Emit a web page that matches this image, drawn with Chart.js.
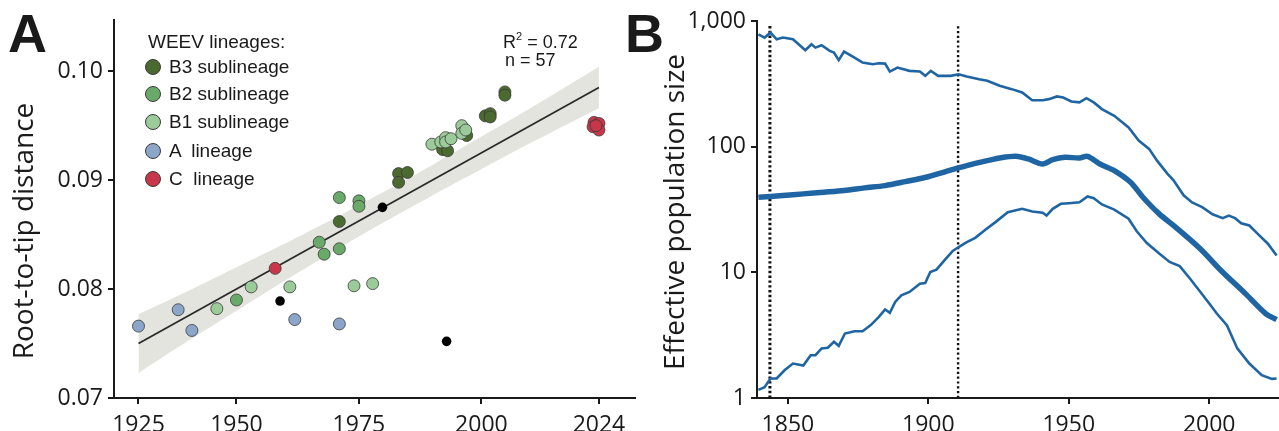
<!DOCTYPE html>
<html>
<head>
<meta charset="utf-8">
<script src="https://cdn.jsdelivr.net/npm/chart.js@4.4.1/dist/chart.umd.min.js"></script>
<style>
html,body{margin:0;padding:0;background:#fff;}
#root{position:relative;width:1279px;height:431px;overflow:hidden;background:#fff;font-family:"Liberation Sans",Arial,sans-serif;color:#1a1a1a;}
canvas{position:absolute;top:0;}
.t{position:absolute;white-space:pre;z-index:5;}
.panel{font-weight:bold;font-size:54px;line-height:54px;height:54px;}
.leg{font-size:19px;line-height:24px;height:24px;}
.dot{position:absolute;width:16px;height:16px;border-radius:50%;box-sizing:border-box;border:1px solid #3a3a3a;z-index:5;}
.stat{font-size:18px;line-height:22px;height:22px;}
.ytitle{font-family:"Open Sans",sans-serif;font-size:28px;line-height:34px;height:34px;text-align:center;transform:rotate(-90deg);transform-origin:50% 50%;}
</style>
</head>
<body>
<div id="root">
<canvas id="chartA" width="642" height="431" style="left:0"></canvas>
<canvas id="chartB" width="639" height="431" style="left:640px"></canvas>

<div class="t panel" style="left:8px;top:6px">A</div>
<div class="t panel" style="left:625px;top:6px">B</div>

<div class="t leg" style="left:148px;top:30px">WEEV lineages:</div>
<div class="dot" style="left:145px;top:59px;background:#4b6a30"></div>
<div class="t leg" style="left:169px;top:55px">B3 sublineage</div>
<div class="dot" style="left:145px;top:86px;background:#6aaa68"></div>
<div class="t leg" style="left:169px;top:82px">B2 sublineage</div>
<div class="dot" style="left:145px;top:114px;background:#9ccb9a"></div>
<div class="t leg" style="left:169px;top:110px">B1 sublineage</div>
<div class="dot" style="left:145px;top:143px;background:#8ba6c8"></div>
<div class="t leg" style="left:169px;top:139px">A  lineage</div>
<div class="dot" style="left:145px;top:171px;background:#c8364a"></div>
<div class="t leg" style="left:169px;top:167px">C  lineage</div>

<div class="t stat" style="left:503px;top:31px">R<sup style="font-size:11px;line-height:0;position:relative;top:-1px">2</sup> = 0.72</div>
<div class="t stat" style="left:505px;top:49px">n = 57</div>

<div class="t ytitle" style="left:-178px;top:214px;width:400px">Root-to-tip distance</div>
<div class="t ytitle" style="left:473px;top:195px;width:400px">Effective population size</div>
</div>

<script>
// ---------- Panel A data ----------
const yearsB3 = [1971, 1983.1, 1983.1, 1984.9, 1992.1, 1992.1, 1993.1, 1997, 2000.8, 2001.8, 2001.8, 2004.8, 2004.8];
const distB3  = [0.0862, 0.0906, 0.0898, 0.0907, 0.0930, 0.0928, 0.0927, 0.0941, 0.0959, 0.0961, 0.0958, 0.0981, 0.0978];
const yearsB2 = [1950, 1966.9, 1967.9, 1971, 1971, 1975, 1975];
const distB2  = [0.0790, 0.0843, 0.0832, 0.0837, 0.0884, 0.0881, 0.0876];
const yearsB1 = [1946, 1953, 1960.9, 1974, 1977.8, 1989.9, 1991.7, 1992.7, 1992.7, 1993.8, 1996, 1996, 1996.8];
const distB1  = [0.0782, 0.0802, 0.0802, 0.0803, 0.0805, 0.0933, 0.0935, 0.0939, 0.0935, 0.0938, 0.0950, 0.0943, 0.0946];
const yearsA  = [1930, 1938.1, 1940.9, 1961.9, 1971];
const distA   = [0.0766, 0.0781, 0.0762, 0.0772, 0.0768];
const yearsC  = [1957.9, 2023, 2024, 2022.8, 2024, 2023.4];
const distC   = [0.0819, 0.0953, 0.0952, 0.0949, 0.0946, 0.0950];
const yearsUnassigned = [1958.9, 1979.8, 1992.9];
const distUnassigned  = [0.0789, 0.0875, 0.0752];

const fitYears = [1930, 2024];
const fitDist  = [0.0750, 0.0985];
const bandYears = [1930, 1940, 1950, 1960, 1970, 1980, 1990, 2000, 2010, 2024];
const bandUpper = [0.0777, 0.0798, 0.0820, 0.0842, 0.0865, 0.0889, 0.0914, 0.0940, 0.0966, 0.1004];
const bandLower = [0.0723, 0.0752, 0.0780, 0.0808, 0.0835, 0.0861, 0.0886, 0.0910, 0.0934, 0.0966];

const xTicksA = [1930, 1950, 1975, 2000, 2024];
const xTickLabelsA = ['1925', '1950', '1975', '2000', '2024'];
const yTicksA = [0.07, 0.08, 0.09, 0.10];
const yTickLabelsA = ['0.07', '0.08', '0.09', '0.10'];

// ---------- Panel B data ----------
const yearsUpper = [1839.5,1841.7,1843.8,1846,1848.2,1851.8,1856.2,1858.4,1859.8,1862,1864.9,1866.4,1868.1,1870,1873.7,1876.6,1880.2,1882.4,1884.6,1886.3,1889,1893.3,1897,1898.9,1900.9,1903.5,1907.9,1910.8,1913.7,1918.1,1921,1925.4,1929.7,1933.4,1937,1940.7,1942.9,1945.8,1948,1950.9,1953.8,1956.3,1958.9,1961.8,1966.2,1971.3,1974.9,1978.6,1981.5,1985.1,1987.3,1990.9,1993.9,1997.5,2001.2,2004.8,2007,2009.2,2011.4,2014.3,2017.2,2020.9,2024];
const neUpper    = [783,738,808,715,738,715,585,653,614,641,578,561,488,571,512,467,453,461,458,396,426,401,396,366,401,366,366,377,362,344,334,305,287,270,234,234,239,251,246,229,225,243,225,199,176,142,112,96,77,61,54,41,36,33,29,27,28.3,27,24.6,23.6,20.3,16.9,13.6];
const yearsMedian = [1839.5,1848.2,1855.5,1862.8,1870,1877.3,1884.6,1891.8,1899.1,1906.4,1913.7,1921,1925.4,1931.2,1935.6,1940.7,1944.3,1948.7,1953.8,1956.7,1961.1,1966.2,1972,1976.4,1982.2,1988,1996.8,2004.1,2012.8,2020.1,2024];
const neMedian    = [39.6,40.8,42.1,43.4,44.8,47,49,52.7,57.1,63.7,70.7,77.4,81.3,83.8,79.8,72.8,78.9,82.3,81.3,83.8,72.8,64.5,52.1,39.6,29.2,22.9,15.4,10.4,6.8,4.7,4.2];
const yearsLower = [1839.5,1841.7,1843.8,1846,1848.9,1851.8,1855.5,1858.1,1859.8,1862,1864.2,1866.4,1868.1,1870.3,1873.7,1876.6,1879.5,1882.4,1884.6,1886.3,1888.2,1890.4,1893.3,1897,1898.9,1900.7,1902.9,1905.8,1908.7,1910.8,1913.7,1916.7,1920.3,1923.9,1928.3,1933.4,1937,1940.7,1942.1,1944.3,1947.2,1950.1,1953.8,1956.7,1958.9,1961.8,1966.2,1971.3,1974.2,1977.8,1982.2,1985.9,1989.5,1993.2,1996.8,2000.5,2002.7,2006.3,2010,2014.3,2018.7,2022.3,2024];
const neLower    = [1.16,1.22,1.43,1.43,1.67,1.88,1.81,2.19,2.19,2.48,2.51,2.80,2.60,3.26,3.40,3.40,3.80,4.42,5.06,4.76,5.82,6.57,6.98,8.13,8.23,10.06,10.5,12.5,14.8,15.9,17.4,18.8,21.8,25.1,30.1,32,30.5,29.8,28.3,32,35.1,35.5,36.1,40.1,38.9,34.7,31.6,26.7,21.2,17.1,14.1,12.1,11.2,8.9,7.0,5.47,4.70,3.80,2.48,1.88,1.52,1.42,1.43];
const markerYears = [1843.6, 1910.6];
const markerTop = 915;

const xTicksB = [1850, 1900, 1950, 2000];
const xTickLabelsB = ['1850', '1900', '1950', '2000'];
const yTicksB = [1, 10, 100, 1000];
const yTickLabelsB = ['1', '10', '100', '1,000'];

// ---------- helpers ----------
const pts = (xs, ys) => xs.map((x, i) => ({ x: x, y: ys[i] }));
const INK = '#1a1a1a';
const tickFont = { family: 'Open Sans', size: 23 };

function axisCommon(ticksArr, labelsArr, fitFn, pad) {
  return {
    afterBuildTicks: s => { s.ticks = ticksArr.map(v => ({ value: v })); },
    afterFit: fitFn,
    ticks: {
      callback: v => { const i = ticksArr.indexOf(v); return i >= 0 ? labelsArr[i] : ''; },
      font: tickFont, color: INK, autoSkip: false, maxRotation: 0, minRotation: 0, padding: pad
    },
    grid: { display: true, drawOnChartArea: false, drawTicks: true, tickLength: 6, color: INK, lineWidth: 2 },
    border: { display: true, color: INK, width: 2 }
  };
}

function scatterSet(xs, ys, fill, radius, bw, order) {
  return {
    type: 'scatter', data: pts(xs, ys), backgroundColor: fill,
    borderColor: '#3a3a3a', borderWidth: bw, pointRadius: radius, pointHoverRadius: radius,
    order: order
  };
}

// ---------- Panel A ----------
new Chart(document.getElementById('chartA'), {
  type: 'scatter',
  data: {
    datasets: [
      scatterSet(yearsB1, distB1, '#9ccb9a', 6, 0.8, 0),
      scatterSet(yearsB2, distB2, '#6aaa68', 6, 0.8, 1),
      scatterSet(yearsB3, distB3, '#4b6a30', 6, 0.8, 2),
      scatterSet(yearsA, distA, '#8ba6c8', 6, 0.8, 1),
      scatterSet(yearsC, distC, '#c8364a', 6, 0.8, 1),
      scatterSet(yearsUnassigned, distUnassigned, '#000000', 4.8, 0, 0),
      { type: 'line', data: pts(fitYears, fitDist), borderColor: '#2a2a2a', borderWidth: 1.8,
        pointRadius: 0, fill: false, order: 5 },
      { type: 'line', data: pts(bandYears, bandUpper), borderWidth: 0, borderColor: 'rgba(0,0,0,0)',
        backgroundColor: '#e4e4de', pointRadius: 0, fill: '+1', tension: 0.3, order: 6 },
      { type: 'line', data: pts(bandYears, bandLower), borderWidth: 0, borderColor: 'rgba(0,0,0,0)',
        pointRadius: 0, fill: false, tension: 0.3, order: 7 }
    ]
  },
  options: {
    responsive: false, animation: false, devicePixelRatio: 1,
    layout: { padding: { top: 20, right: 0, left: 0, bottom: 0 } },
    plugins: { legend: { display: false }, tooltip: { enabled: false } },
    scales: {
      x: Object.assign({ type: 'linear', min: 1925, max: 2031.4 },
        axisCommon(xTicksA, xTickLabelsA, s => { s.height = 33; }, 8)),
      y: Object.assign({ type: 'linear', min: 0.07, max: 0.1047 },
        axisCommon(yTicksA, yTickLabelsA, s => { s.width = 114; }, 5))
    }
  }
});

// ---------- Panel B ----------
const BLUE = '#1f65a3';
new Chart(document.getElementById('chartB'), {
  type: 'scatter',
  data: {
    datasets: [
      { type: 'line', data: pts(yearsUpper, neUpper), borderColor: BLUE, borderWidth: 2.6, pointRadius: 0, fill: false, order: 1 },
      { type: 'line', data: pts(yearsMedian, neMedian), borderColor: BLUE, borderWidth: 5.5, pointRadius: 0, fill: false, tension: 0.3, order: 0 },
      { type: 'line', data: pts(yearsLower, neLower), borderColor: BLUE, borderWidth: 2.6, pointRadius: 0, fill: false, order: 1 },
      { type: 'line', data: [{ x: markerYears[0], y: 1 }, { x: markerYears[0], y: markerTop }], borderColor: '#111',
        borderWidth: 3, borderDash: [2.4, 2.4], pointRadius: 0, fill: false, order: 3 },
      { type: 'line', data: [{ x: markerYears[1], y: 1 }, { x: markerYears[1], y: markerTop }], borderColor: '#111',
        borderWidth: 2.4, borderDash: [2.2, 2.6], pointRadius: 0, fill: false, order: 3 }
    ]
  },
  options: {
    responsive: false, animation: false, devicePixelRatio: 1,
    layout: { padding: { top: 21, right: 1, left: 0, bottom: 0 } },
    plugins: { legend: { display: false }, tooltip: { enabled: false } },
    scales: {
      x: Object.assign({ type: 'linear', min: 1839, max: 2024.5 },
        axisCommon(xTicksB, xTickLabelsB, s => { s.height = 33; }, 8)),
      y: Object.assign({ type: 'logarithmic', min: 1, max: 1000 },
        axisCommon(yTicksB, yTickLabelsB, s => { s.width = 117; }, 5))
    }
  }
});
</script>
</body>
</html>
